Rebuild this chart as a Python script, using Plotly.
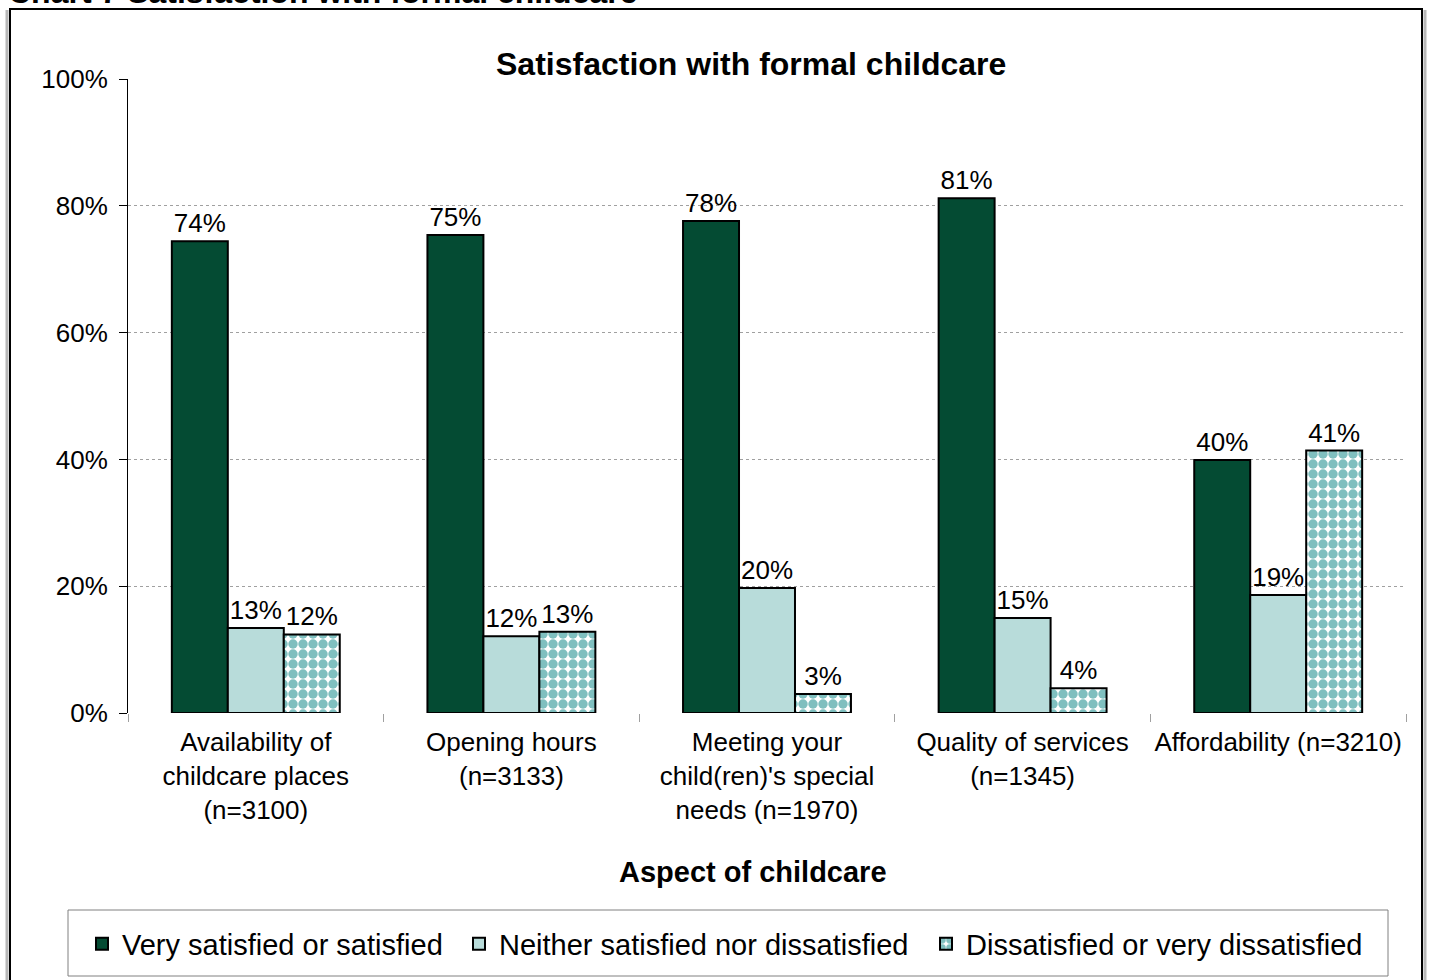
import plotly.graph_objects as go

categories = [
    "Availability of<br>childcare places<br>(n=3100)",
    "Opening hours<br>(n=3133)",
    "Meeting your<br>child(ren)'s special<br>needs (n=1970)",
    "Quality of services<br>(n=1345)",
    "Affordability (n=3210)",
]
satisfied = [0.744, 0.754, 0.776, 0.812, 0.399]
neither = [0.134, 0.121, 0.197, 0.150, 0.186]
dissatisfied = [0.124, 0.128, 0.030, 0.039, 0.414]
series_names = [
    "Very satisfied or satisfied",
    "Neither satisfied nor dissatisfied",
    "Dissatisfied or very dissatisfied",
]
y_ticks = [0, 0.2, 0.4, 0.6, 0.8, 1.0]
grid_ticks = [0, 0.2, 0.4, 0.6, 0.8]

FONT = "Liberation Sans, Arial, sans-serif"
W, H = 1429, 980
L, R, T, B = 128, 23, 79, 267
PW, PH = W - L - R, H - T - B


def px(x):
    return (x - L) / PW


def py(y):
    return (H - B - y) / PH


fig = go.Figure()
common = dict(
    texttemplate="%{y:.0%}",
    textposition="outside",
    textfont=dict(size=26, color="black", family=FONT),
    cliponaxis=False,
    constraintext="none",
)
fig.add_trace(go.Bar(
    x=categories, y=satisfied, name=series_names[0],
    marker=dict(color="#044B33", line=dict(color="black", width=2)),
    legendwidth=332, **common))
fig.add_trace(go.Bar(
    x=categories, y=neither, name=series_names[1],
    marker=dict(color="#B8DCDA", line=dict(color="black", width=2)),
    legendwidth=422, **common))
fig.add_trace(go.Bar(
    x=categories, y=dissatisfied, name=series_names[2],
    marker=dict(color="white", line=dict(color="black", width=2),
                pattern=dict(shape=".", fgcolor="#007F7F", bgcolor="white",
                             size=10, solidity=0.7)),
    legendwidth=420, **common))

# invisible trace carrying the grid axis
fig.add_trace(go.Scatter(x=[categories[0]], y=[0], yaxis="y2", mode="markers",
                         marker=dict(opacity=0), showlegend=False, hoverinfo="skip"))

fig.update_layout(
    width=W, height=H,
    margin=dict(l=L, r=R, t=T, b=B, autoexpand=False),
    paper_bgcolor="white", plot_bgcolor="white",
    font=dict(family=FONT, color="black"),
    barmode="group", bargap=0.343, bargroupgap=0,
    showlegend=True,
    legend=dict(orientation="h", x=px(82), xanchor="left", y=py(944), yanchor="middle",
                font=dict(size=29, family=FONT), borderwidth=0,
                bgcolor="rgba(0,0,0,0)", traceorder="normal"),
    xaxis=dict(showline=False, showgrid=False, ticks="outside", tickson="boundaries",
               ticklen=8, tickcolor="#A0A0A0", tickwidth=1, tickangle=0,
               tickfont=dict(size=26, family=FONT, color="black"),
               ticklabelstandoff=11, zeroline=False, automargin=False),
    yaxis=dict(range=[0, 1], tickvals=y_ticks, tickformat=".0%",
               showgrid=False, showline=True, linecolor="black", linewidth=1,
               ticks="outside", ticklen=8, tickcolor="black",
               tickfont=dict(size=26, family=FONT, color="black"),
               ticklabelstandoff=6, zeroline=False, automargin=False),
    yaxis2=dict(range=[0, 1], overlaying="y", tickvals=grid_ticks, showgrid=True,
                gridcolor="#A0A0A0", griddash="dot", gridwidth=1,
                showticklabels=False, ticks="", zeroline=False, showline=False),
    annotations=[
        dict(text="<b>Satisfaction with formal childcare</b>", xref="paper", yref="paper",
             x=px(751), y=py(64), xanchor="center", yanchor="middle", showarrow=False,
             font=dict(size=32, family=FONT, color="black")),
        dict(text="<b>Aspect of childcare</b>", xref="paper", yref="paper",
             x=px(753), y=py(872), xanchor="center", yanchor="middle", showarrow=False,
             font=dict(size=29, family=FONT, color="black")),
        dict(text="<b>Chart 7 Satisfaction with formal childcare</b>", xref="paper", yref="paper",
             x=px(6), y=py(12), xanchor="left", yanchor="bottom", showarrow=False,
             font=dict(size=32, family=FONT, color="black")),
    ],
    shapes=[
        dict(type="rect", xref="paper", yref="paper", x0=px(68), x1=px(1388),
             y0=py(976), y1=py(910), line=dict(color="#808080", width=1)),
        dict(type="line", xref="paper", yref="paper", x0=px(7), x1=px(7),
             y0=py(10), y1=py(1000), line=dict(color="#B8B8B8", width=3)),
        dict(type="line", xref="paper", yref="paper", x0=px(1425), x1=px(1425),
             y0=py(10), y1=py(1000), line=dict(color="#B8B8B8", width=3)),
        dict(type="rect", xref="paper", yref="paper", x0=px(10), x1=px(1422),
             y0=py(1000), y1=py(9), line=dict(color="black", width=2)),
    ],
)

fig.write_html("out.html")
